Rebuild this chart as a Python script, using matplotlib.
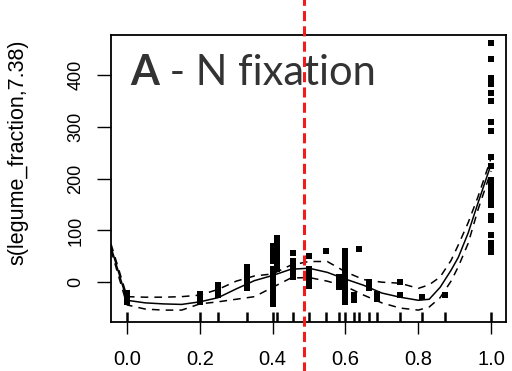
import numpy as np
import matplotlib.pyplot as plt

# partial effect of legume fraction (GAM smooth)
fit_x = [-0.044, 0.0, 0.05, 0.1, 0.15, 0.2, 0.25, 0.3, 0.35, 0.4, 0.45, 0.5, 0.55,
         0.6, 0.65, 0.7, 0.75, 0.8, 0.83, 0.86, 0.89, 0.91, 0.937, 0.964, 1.0]
fit_y = [68, -35, -40, -42, -43, -38, -30, -13, 3, 13, 25, 27, 19,
         6, -6, -21, -29, -35, -33, -10, 23, 48, 95, 153, 228]
upper = [74, -28, -29, -29, -28, -25, -14, 2, 12, 16, 33, 40, 40,
         20, 5, 0, -2, -12, -5, 10, 42, 72, 115, 165, 240]
lower = [62, -44, -52, -54, -54, -42, -38, -33, -28, -10, 8, 9, 2,
         -8, -25, -40, -50, -54, -48, -30, 2, 30, 75, 140, 215]

# partial residuals
res_x = ([0.0] * 3 + [0.2] * 3 + [0.25] * 3 + [0.33] * 5 + [0.4] * 12 + [0.413] * 7
         + [0.456] * 5 + [0.5] * 5 + [0.546] + [0.582] * 3 + [0.6] * 11 + [0.623] * 2
         + [0.637] + [0.664] * 2 + [0.686] * 2 + [0.751] * 2 + [0.809] + [0.874]
         + [1.0] * 22)
res_y = ([-20, -30, -38] + [-22, -30, -38] + [-5, -15, -25] + [30, 20, 10, 0, -12]
         + [70, 60, 50, 40, 25, 15, 5, -5, -15, -25, -35, -42]
         + [85, 75, 65, 55, 45, 35, 25] + [57, 40, 30, 20, 10] + [50, 25, 15, 5, -8]
         + [60] + [10, 0, -10] + [60, 50, 40, 30, 20, 10, 0, -10, -20, -30, -38]
         + [-25, -35] + [65] + [0, -12] + [-22, -32] + [0, -25] + [-28] + [-25]
         + [462, 432, 395, 383, 365, 350, 310, 293, 242, 225, 198, 188, 178, 168,
            160, 150, 128, 120, 92, 75, 65, 58])

rug_x = [0.0, 0.2, 0.25, 0.33, 0.4, 0.413, 0.456, 0.5, 0.546, 0.582, 0.6, 0.623,
         0.637, 0.664, 0.686, 0.751, 0.809, 0.874, 1.0]

threshold = 0.486

plt.rcParams['font.family'] = ['Liberation Sans', 'DejaVu Sans']

fig = plt.figure(figsize=(5.12, 3.71), dpi=100)
ax = fig.add_axes([111 / 512, 1 - 322 / 371, 395 / 512, 287 / 371])

ax.plot(res_x, res_y, 's', color='black', markersize=4.2, markeredgewidth=0)
ax.vlines(rug_x, 0, 0.035, transform=ax.get_xaxis_transform(), color='black', lw=1.8)
ax.plot(fit_x, fit_y, color='black', lw=1.1)
ax.plot(fit_x, upper, color='black', lw=1.1, dashes=(5, 4))
ax.plot(fit_x, lower, color='black', lw=1.1, dashes=(5, 4))

ax.axvline(threshold, ymin=-0.18, ymax=1.13, color='#f01c1c', lw=2.2,
           dashes=(3.3, 1.7), clip_on=False, zorder=5)

ax.set_xlim(-0.044, 1.041)
ax.set_ylim(-77, 478)
ax.set_xticks([0.0, 0.2, 0.4, 0.6, 0.8, 1.0])
ax.set_yticks([0, 100, 200, 300, 400])
ax.tick_params(axis='x', length=8.5, width=1, pad=12, labelsize=14.5)
ax.tick_params(axis='y', length=10, width=1, pad=9, labelsize=13)
for lab in ax.get_yticklabels():
    lab.set_rotation(90)
    lab.set_va('center')
for sp in ax.spines.values():
    sp.set_linewidth(1.3)

fig.text(18 / 512, 1 - 152 / 371, 's(legume_fraction,7.38)', rotation=90,
         ha='center', va='center', fontsize=15.5)

t1 = ax.text(0.048, 0.80, 'A', transform=ax.transAxes, fontsize=30,
             fontweight='bold', color='#333333', family='Lato', va='bottom')
ax.annotate(' - N fixation', xy=(1, 0), xycoords=t1, va='bottom', ha='left',
            fontsize=30, color='#333333', family='Lato')

fig.savefig('out.png', dpi=100)
